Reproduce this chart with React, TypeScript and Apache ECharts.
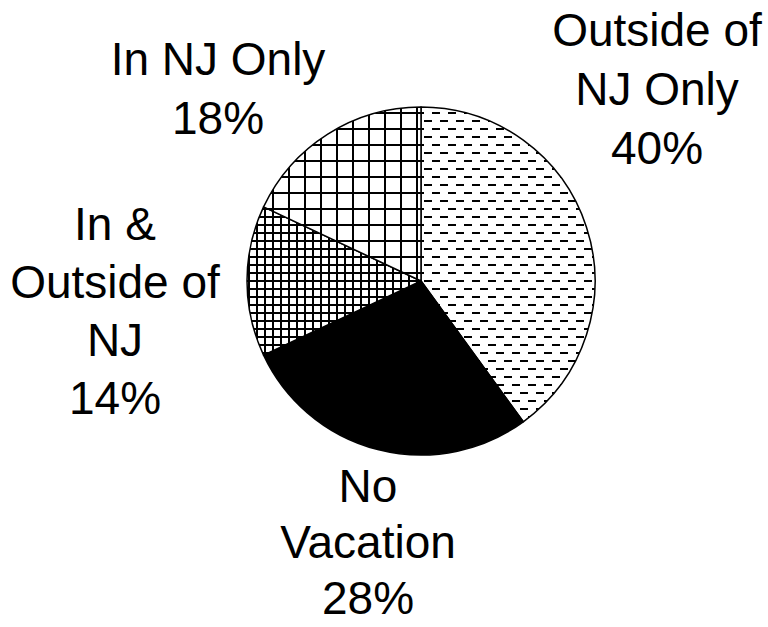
import React, { useEffect, useRef } from "react";
import * as echarts from "echarts";

const categories = ["Outside of\nNJ Only", "No\nVacation", "In &\nOutside of\nNJ", "In NJ Only"];
const values = [40, 28, 14, 18];

function makeTile(kind: string): HTMLCanvasElement {
  const c = document.createElement("canvas");
  const size = kind === "fine" ? 8 : 16;
  c.width = size;
  c.height = size;
  const ctx = c.getContext("2d")!;
  ctx.fillStyle = "#ffffff";
  ctx.fillRect(0, 0, size, size);
  ctx.fillStyle = "#000000";
  if (kind === "dash") {
    ctx.fillRect(0, 0, 8, 2);
    ctx.fillRect(8, 8, 8, 2);
  } else if (kind === "grid") {
    ctx.fillRect(0, 0, 16, 2);
    ctx.fillRect(0, 0, 2, 16);
  } else if (kind === "fine") {
    ctx.fillRect(0, 0, 8, 2);
    ctx.fillRect(0, 0, 2, 8);
  }
  return c;
}

const labelCenters: [number, number][] = [
  [657, 89],
  [368, 542],
  [115, 311],
  [218, 88],
];
const labelLineHeights = [59, 56, 58, 59];

export default function App() {
  const ref = useRef<HTMLDivElement>(null);
  useEffect(() => {
    if (!ref.current) return;
    const chart = echarts.init(ref.current, null, { renderer: "svg" });
    const fills: any[] = [
      { image: makeTile("dash"), repeat: "repeat" },
      "#000000",
      { image: makeTile("fine"), repeat: "repeat" },
      { image: makeTile("grid"), repeat: "repeat" },
    ];
    chart.setOption({
      animation: false,
      backgroundColor: "#ffffff",
      series: [
        {
          type: "pie",
          center: [421, 281],
          radius: 174,
          startAngle: 90,
          clockwise: true,
          avoidLabelOverlap: false,
          percentPrecision: 0,
          itemStyle: { borderColor: "#000000", borderWidth: 1.5 },
          label: {
            show: true,
            position: "outside",
            formatter: "{b}\n{d}%",
            fontFamily: "Liberation Sans, Arial, sans-serif",
            fontSize: 46,
            lineHeight: 59,
            color: "#000000",
            align: "center",
          },
          labelLine: { show: false },
          labelLayout: (params: any) => {
            const p = labelCenters[params.dataIndex];
            return { x: p[0], y: p[1], align: "center", verticalAlign: "middle" };
          },
          emphasis: { disabled: true },
          data: categories.map((name, i) => ({
            name,
            value: values[i],
            itemStyle: { color: fills[i] },
            label: { lineHeight: labelLineHeights[i] },
          })),
        },
      ],
    });
    return () => chart.dispose();
  }, []);
  return (
    <div
      ref={ref}
      style={{ position: "fixed", left: 0, top: 0, width: 768, height: 627, background: "#fff" }}
    />
  );
}
